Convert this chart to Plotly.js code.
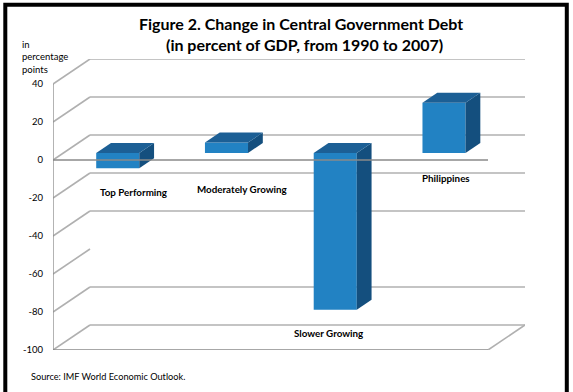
<!DOCTYPE html>
<html>
<head>
<meta charset="utf-8">
<script src="https://cdn.plot.ly/plotly-3.0.1.min.js"></script>
<style>html,body{margin:0;padding:0;background:#fff;}#chart{width:573px;height:392px;}</style>
</head>
<body>
<div id="chart"></div>
<script>
// ---- data ----
const categories = ["Top Performing", "Moderately Growing", "Slower Growing", "Philippines"];
const debtChange = [-8, 5.5, -82.5, 26.5];
const tickValues = [40, 20, 0, -20, -40, -60, -80, -100];
const tickLabels = ["40", "20", "0", "-20", "-40", "-60", "-80", "-100"];
const yTitle = "in<br>percentage<br>points";
const titleLines = ["Figure 2. Change in Central Government Debt", "(in percent of GDP, from 1990 to 2007)"];
const sourceNote = "Source: IMF World Economic Outlook.";

// ---- layout geometry (style) ----
const W = 573, H = 392;
const M = {l: 53, r: 48, t: 59, b: 42};
const PW = W - M.l - M.r, PH = H - M.t - M.b;
const X0 = -0.5, X1 = 3.5;
const DX = 0.340, DY = 13.16;        // depth of the 3D box in axis units
const YMIN = -100, YMAX = 53.16;
const FRONT = 0.28, DEPTH = 0.40;     // bar position inside box depth
const BAR_W = 0.396;
const fx = px => (px - M.l) / PW;
const fy = py => 1 - (py - M.t) / PH;

const cFront = "#2282c3", cSide = "#144f7e", cTop = "#1c5f95";
const gridCol = "#b0b0b0", axisCol = "#8a8a8a";

// label placement offsets (style), per category
const labelDX = [0.236, 1.239, 2.03, 3.115];
const labelY = [-16.7, -15.4, -91, -9.6];

// ---- traces ----
const traces = [];
const bx = categories.map((c, i) => i + FRONT * DX);
const base = FRONT * DY;
traces.push({
  type: "bar", x: bx, y: debtChange, base: debtChange.map(() => base),
  width: BAR_W, marker: {color: cFront, line: {width: 0}},
  hoverinfo: "skip", showlegend: false
});
const ddx = DEPTH * DX, ddy = DEPTH * DY;
debtChange.forEach((v, i) => {
  const xr = bx[i] + BAR_W / 2, xl = bx[i] - BAR_W / 2;
  const lo = base + Math.min(v, 0), hi = base + Math.max(v, 0);
  traces.push({type: "scatter", mode: "lines", fill: "toself", fillcolor: cSide,
    line: {width: 0, color: cSide},
    x: [xr, xr + ddx, xr + ddx, xr, xr], y: [lo, lo + ddy, hi + ddy, hi, lo],
    hoverinfo: "skip", showlegend: false});
  traces.push({type: "scatter", mode: "lines", fill: "toself", fillcolor: cTop,
    line: {width: 0, color: cTop},
    x: [xl, xr, xr + ddx, xl + ddx, xl], y: [hi, hi, hi + ddy, hi + ddy, hi],
    hoverinfo: "skip", showlegend: false});
});

// ---- shapes (box walls / gridlines) ----
const shapes = [];
const seg = (x0, y0, x1, y1, color, width, layer) => shapes.push({
  type: "line", xref: "x", yref: "y", x0, y0, x1, y1, layer: layer || "below",
  line: {color, width}
});
tickValues.forEach(v => {
  seg(X0, v, X0 + DX, v + DY, gridCol, 1.6);
  if (v !== -60) seg(X0 + DX, v + DY, X1 + DX, v + DY, gridCol, 1.6);
});
seg(X1, YMIN, X1 + DX, YMIN + DY, gridCol, 1.6);
seg(X0, YMIN, X1, YMIN, axisCol, 1.3);
seg(X0, YMIN, X0, tickValues[0], axisCol, 1.3);
seg(X0, 0, X1, 0, axisCol, 1.3, "above");
shapes.push({type: "rect", xref: "paper", yref: "paper", x0: fx(5.3), x1: fx(566.8), y0: fy(420), y1: fy(4.8),
  line: {color: "#000", width: 4}, layer: "above"});

// ---- annotations ----
const FONT = "Lato, 'Liberation Sans', sans-serif";
const annotations = categories.map((c, i) => ({
  x: labelDX[i], y: labelY[i], xref: "x", yref: "y", text: c,
  showarrow: false, font: {family: FONT, size: 9.8, color: "#000", weight: 700}
}));
titleLines.forEach((t, k) => annotations.push({
  x: fx(k === 0 ? 301 : 304), y: fy(k === 0 ? 24 : 45), xref: "paper", yref: "paper", xanchor: "center", yanchor: "middle",
  text: t, showarrow: false, font: {family: FONT, size: 16, color: "#000", weight: 700}
}));
annotations.push({x: fx(20), y: fy(37), xref: "paper", yref: "paper", xanchor: "left", yanchor: "top",
  align: "left", text: yTitle, showarrow: false, font: {family: FONT, size: 9.5, color: "#000"}});
annotations.push({x: fx(29), y: fy(377), xref: "paper", yref: "paper", xanchor: "left", yanchor: "middle",
  text: sourceNote, showarrow: false, font: {family: FONT, size: 9.2, color: "#000"}});

const layout = {
  width: W, height: H, margin: M, paper_bgcolor: "#fff", plot_bgcolor: "rgba(0,0,0,0)",
  showlegend: false,
  xaxis: {range: [X0, X1 + DX], showgrid: false, zeroline: false, showline: false,
    showticklabels: false, ticks: "", fixedrange: true},
  yaxis: {range: [YMIN, YMAX], tickvals: tickValues, ticktext: tickLabels, showgrid: false,
    zeroline: false, showline: false, ticks: "", ticklabelstandoff: 9,
    tickfont: {family: FONT, size: 9.5, color: "#000"}, fixedrange: true},
  shapes, annotations
};

Plotly.newPlot("chart", traces, layout, {displayModeBar: false, staticPlot: true});
</script>
</body>
</html>
